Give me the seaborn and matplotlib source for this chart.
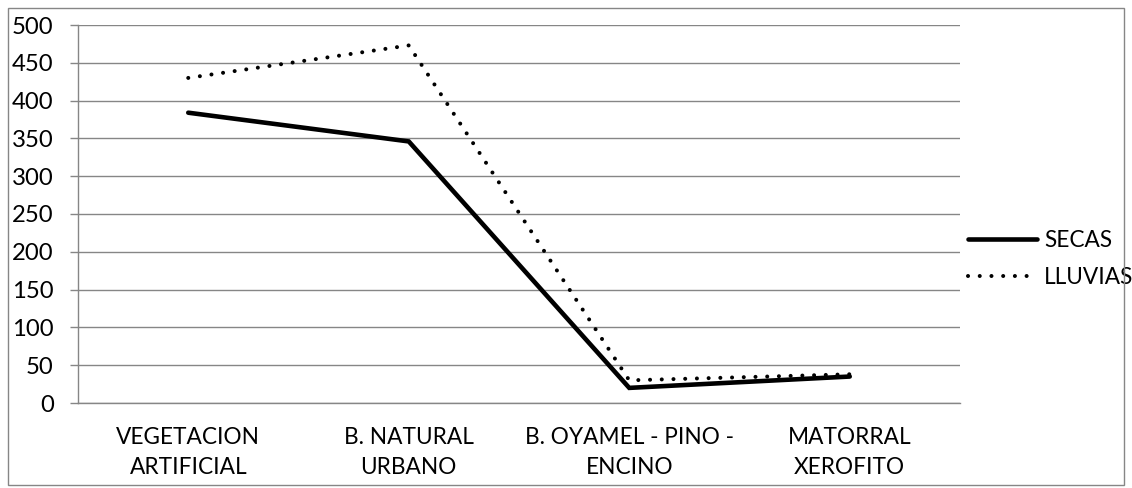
import matplotlib
matplotlib.use("Agg")
import matplotlib.pyplot as plt
import seaborn as sns
import pandas as pd
from matplotlib.patches import Rectangle
from matplotlib.ticker import FixedLocator

categories = ["VEGETACION\nARTIFICIAL", "B. NATURAL\nURBANO", "B. OYAMEL - PINO -\nENCINO", "MATORRAL\nXEROFITO"]
secas = [384, 346, 20, 35]
lluvias = [430, 473, 30, 38]
series_names = ["SECAS", "LLUVIAS"]
yticks = [0, 50, 100, 150, 200, 250, 300, 350, 400, 450, 500]

sns.set_style("white")
plt.rcParams['font.family'] = ['Lato', 'DejaVu Sans']
plt.rcParams['text.color'] = 'black'
plt.rcParams['xtick.color'] = 'black'
plt.rcParams['ytick.color'] = 'black'

FS = 16.3
FSY = 17.2

df = pd.DataFrame({
    "x": list(range(len(categories))) * 2,
    "value": secas + lluvias,
    "serie": [series_names[0]] * len(secas) + [series_names[1]] * len(lluvias),
})

fig = plt.figure(figsize=(11.32, 4.88), dpi=100)
ax = fig.add_axes([78/1132, 1-403/488, (960-78)/1132, (403-25)/488])

sns.lineplot(data=df, x="x", y="value", hue="serie", palette=["black", "black"],
             ax=ax, legend=False, sort=False)
lines = ax.get_lines()
lines[0].set_linewidth(3.3)
lines[0].set_solid_capstyle("round")
lines[0].set_solid_joinstyle("miter")
lines[1].set_linewidth(2.9)
lines[1].set_linestyle((0, (0.01, 2.9)))
lines[1].set_dash_capstyle("round")

ax.set_xlim(-0.5, len(categories) - 0.5)
ax.set_ylim(0, 500)
ax.set_yticks(yticks)
ax.set_yticklabels([str(v) for v in yticks], fontsize=FSY)
ax.set_xticks(range(len(categories)))
ax.set_xticklabels(categories, fontsize=FS, linespacing=1.55)
ax.xaxis.set_minor_locator(FixedLocator([i - 0.5 for i in range(len(categories) + 1)]))
ax.tick_params(axis="x", which="major", length=0, pad=17)
ax.tick_params(axis="x", which="minor", length=5, color="#868686", width=1, direction="out")
ax.tick_params(axis="y", length=5.5, color="#868686", labelcolor="black", width=1, direction="out", pad=12, left=True)
ax.set_xlabel("")
ax.set_ylabel("")
ax.grid(axis="y", color="#868686", linewidth=1)
ax.set_axisbelow(True)
for s in ["top", "right"]:
    ax.spines[s].set_visible(False)
for s in ["left", "bottom"]:
    ax.spines[s].set_color("#868686")
    ax.spines[s].set_linewidth(1)

leg = ax.legend(lines, series_names, loc="center left", bbox_to_anchor=(968/1132, 1-259/488),
                bbox_transform=fig.transFigure, frameon=False, fontsize=FS,
                handlelength=3.05, handletextpad=0.3, labelspacing=0.72, borderpad=0, borderaxespad=0)

fig.patches.append(Rectangle((8/1132, 3/488), 1-16/1132, 1-11/488, transform=fig.transFigure,
                             fill=False, edgecolor="#868686", linewidth=1))

fig.savefig("out.png", dpi=100)
